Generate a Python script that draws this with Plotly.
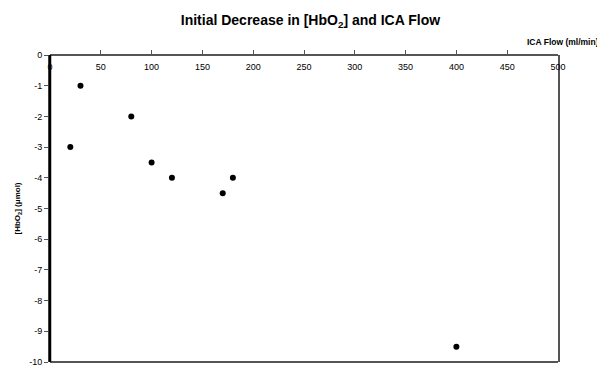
import plotly.graph_objects as go

ica_flow = [20, 30, 80, 100, 120, 170, 180, 400]
hbo2_decrease = [-3, -1, -2, -3.5, -4, -4.5, -4, -9.5]

x_ticks = [0, 50, 100, 150, 200, 250, 300, 350, 400, 450, 500]
y_ticks = [0, -1, -2, -3, -4, -5, -6, -7, -8, -9, -10]
y_tick_labels = ["0", "-1", "-2", "-3", "-4", "-5", "-6", "-7", "-8", "-9", "-10"]

font_family = "Liberation Sans, Arial, sans-serif"

fig = go.Figure()
fig.add_trace(go.Scatter(
    x=ica_flow, y=hbo2_decrease, mode="markers",
    marker=dict(color="black", size=6, symbol="circle"),
    showlegend=False,
))

fig.update_layout(
    width=597, height=370,
    margin=dict(l=50, r=39, t=55, b=8, autoexpand=False),
    paper_bgcolor="white", plot_bgcolor="white",
    font=dict(family=font_family, color="black", size=9),
    title=dict(
        text="<b>Initial Decrease in [HbO<sub>2</sub>] and ICA Flow</b>",
        x=0.52, xanchor="center", y=0.945, yanchor="middle",
        font=dict(size=14, family=font_family, color="black"),
    ),
    xaxis=dict(
        range=[0, 500], anchor="free", position=1, side="bottom",
        tickvals=x_ticks, automargin=False, ticklabelstandoff=3,
        ticks="inside", ticklen=4, tickcolor="#555", tickwidth=1,
        showgrid=False, zeroline=False,
        showline=True, linecolor="#555", linewidth=2,
        tickfont=dict(size=9, color="black"),
    ),
    yaxis=dict(
        range=[-10, 0], tickvals=y_ticks, ticktext=y_tick_labels, automargin=False,
        ticks="outside", ticklen=4, tickcolor="#555", tickwidth=1,
        showgrid=False, zeroline=False,
        showline=True, linecolor="#555", linewidth=2, mirror=True,
        tickfont=dict(size=9, color="black"),
    ),
    shapes=[
        dict(type="line", xref="paper", yref="paper", x0=0, x1=1, y0=0, y1=0,
             line=dict(color="#555", width=2)),
        dict(type="line", xref="paper", yref="paper", x0=0, x1=0, y0=0, y1=1,
             line=dict(color="black", width=2.5)),
    ],
    annotations=[
        dict(text="<b>ICA Flow (ml/min)</b>", xref="paper", yref="paper",
             x=1.085, y=1.042, xanchor="right", yanchor="middle",
             showarrow=False, font=dict(size=8.5, family=font_family, color="black")),
        dict(text="<b>[HbO<sub>2</sub>] (μmol)</b>", xref="paper", yref="paper",
             x=-0.063, y=0.5, xanchor="center", yanchor="middle", textangle=-90,
             showarrow=False, font=dict(size=8, family=font_family, color="black")),
    ],
)

fig.write_html("out.html", config={"displayModeBar": False},
               post_script="document.body.style.margin='0';document.body.style.overflow='hidden';")
